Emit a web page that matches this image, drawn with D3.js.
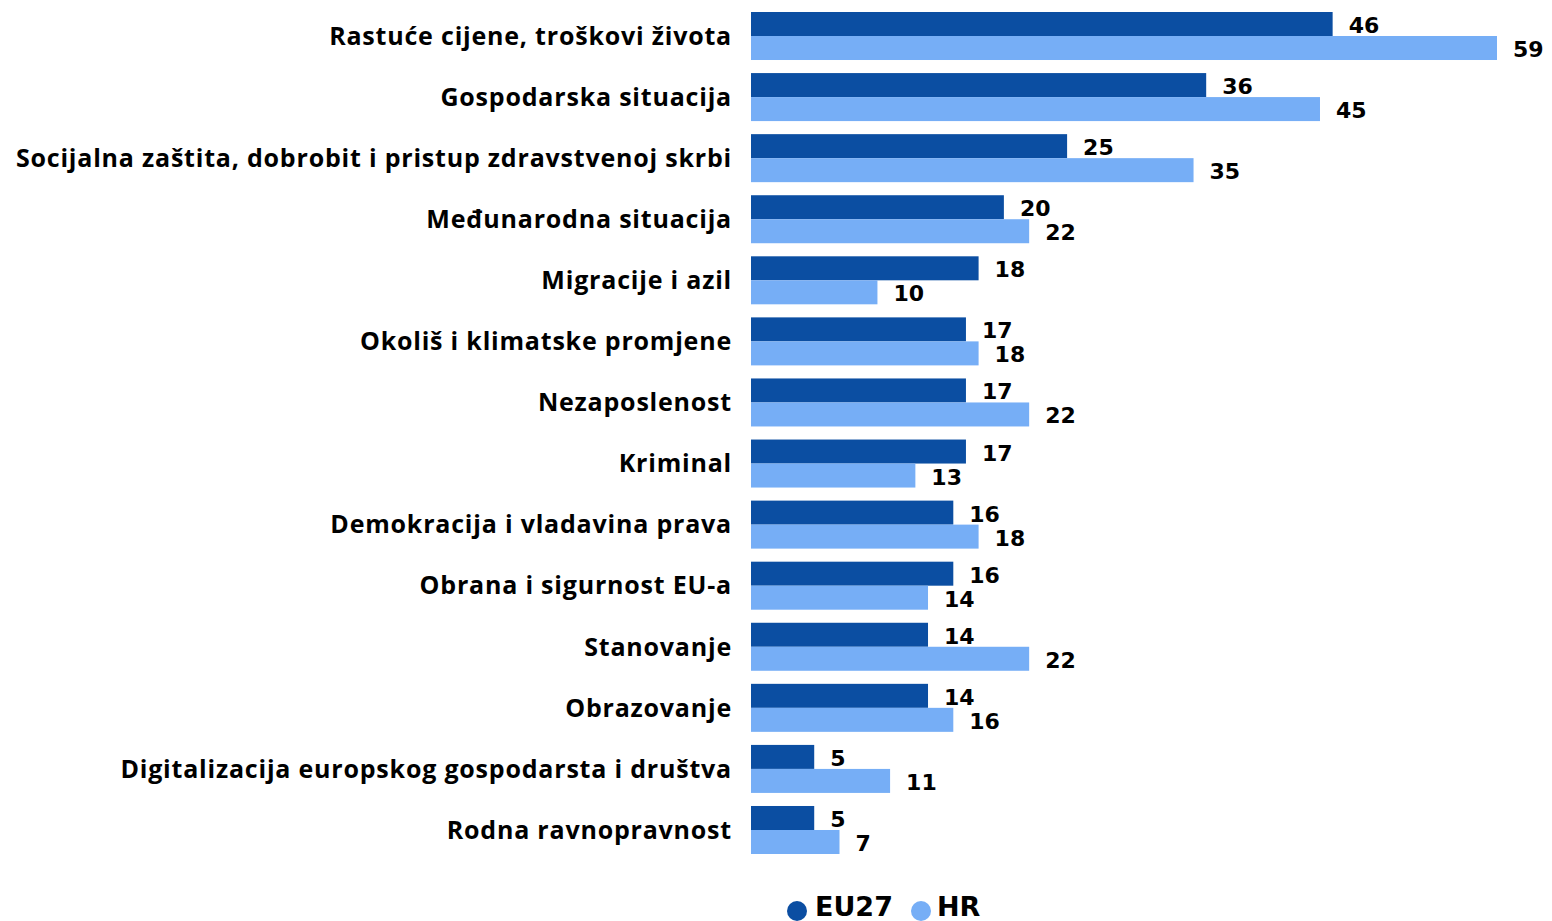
<!DOCTYPE html>
<html>
<head>
<meta charset="utf-8">
<script src="https://cdn.jsdelivr.net/npm/d3@7"></script>
<style>
  body { margin: 0; background: #fff; }
  svg text { font-weight: 700; fill: #000; }
  .cat { font-family: "Open Sans", sans-serif; }
  .num { font-family: "DejaVu Sans", sans-serif; }
</style>
</head>
<body>
<div id="chart"></div>
<script>

var categories = [
    "Rastuće cijene, troškovi života",
    "Gospodarska situacija",
    "Socijalna zaštita, dobrobit i pristup zdravstvenoj skrbi",
    "Međunarodna situacija",
    "Migracije i azil",
    "Okoliš i klimatske promjene",
    "Nezaposlenost",
    "Kriminal",
    "Demokracija i vladavina prava",
    "Obrana i sigurnost EU-a",
    "Stanovanje",
    "Obrazovanje",
    "Digitalizacija europskog gospodarsta i društva",
    "Rodna ravnopravnost"
];
var seriesNames = ["EU27", "HR"];
var eu27 = [46, 36, 25, 20, 18, 17, 17, 17, 16, 16, 14, 14, 5, 5];
var hr = [59, 45, 35, 22, 10, 18, 22, 13, 18, 14, 22, 16, 11, 7];
var colors = ["#0b4ea2", "#76aef6"];

function d3GroupedBars(value) {

    // reset svg
    d3.select(value.id).html("");

    var svg = d3.select(value.id)
        .append("svg")
        .attr("width", value.width)
        .attr("height", value.height);

    var x = d3.scaleLinear()
        .domain([0, d3.max(hr)])
        .range([751, 1497]);

    var y = d3.scaleBand()
        .domain(categories)
        .range([12, 854])
        .paddingInner(0.214)
        .paddingOuter(0);

    var inner = d3.scaleBand()
        .domain(seriesNames)
        .range([0, y.bandwidth()]);

    var rows = categories.map(function (c, i) {
        return { cat: c, values: [eu27[i], hr[i]] };
    });

    var group = svg.selectAll(".row")
        .data(rows)
        .enter()
        .append("g")
        .attr("class", "row")
        .attr("transform", function (d) { return "translate(0," + y(d.cat) + ")"; });

    // category labels
    group.append("text")
        .attr("class", "cat")
        .attr("x", 732)
        .attr("y", y.bandwidth() / 2)
        .attr("dy", "0.35em")
        .attr("text-anchor", "end")
        .style("font-size", "25px")
        .style("letter-spacing", "0.8px")
        .text(function (d) { return d.cat; });

    seriesNames.forEach(function (s, si) {
        group.append("rect")
            .attr("x", x(0))
            .attr("y", inner(s))
            .attr("width", function (d) { return x(d.values[si]) - x(0); })
            .attr("height", inner.bandwidth())
            .attr("fill", colors[si]);

        group.append("text")
            .attr("class", "num")
            .attr("x", function (d) { return x(d.values[si]) + 16; })
            .attr("y", inner(s) + inner.bandwidth() - 3)
            .style("font-size", "22px")
            .text(function (d) { return d.values[si]; });
    });

    // legend
    var legend = svg.selectAll(".legend")
        .data([
            { name: "EU27", cx: 797, tx: 815 },
            { name: "HR", cx: 921, tx: 937 }
        ])
        .enter()
        .append("g")
        .attr("class", "legend");

    legend.append("circle")
        .attr("cx", function (d) { return d.cx; })
        .attr("cy", 911)
        .attr("r", 10)
        .attr("fill", function (d, i) { return colors[i]; });

    legend.append("text")
        .attr("class", "num")
        .attr("x", function (d) { return d.tx; })
        .attr("y", 916)
        .style("font-size", "27px")
        .text(function (d) { return d.name; });
}

d3GroupedBars({ id: "#chart", width: 1552, height: 921 });
</script>
</body>
</html>
